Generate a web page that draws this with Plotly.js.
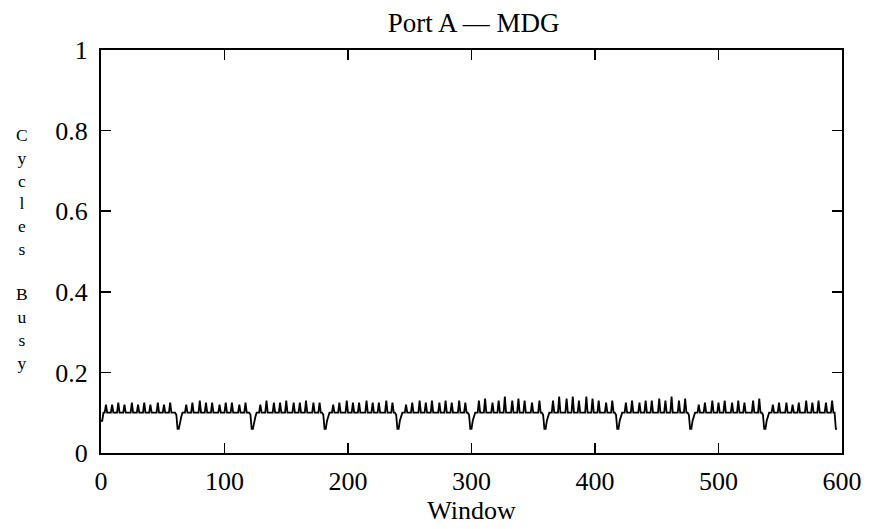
<!DOCTYPE html>
<html>
<head>
<meta charset="utf-8">
<script src="https://cdn.plot.ly/plotly-3.0.1.min.js"></script>
<style>html,body{margin:0;padding:0;background:#fff;}#chart{width:877px;height:529px;}</style>
</head>
<body>
<div id="chart"></div>
<script>
// Fraction of cycles busy, one value per window (window index = position in array)
const cyclesBusy = [
0.08,0.08,0.1,0.1,0.12,0.1,0.1,0.1,0.1,0.12,
0.1,0.1,0.1,0.1,0.125,0.1,0.1,0.1,0.1,0.12,
0.1,0.1,0.1,0.1,0.1,0.125,0.1,0.1,0.1,0.1,
0.12,0.1,0.1,0.1,0.1,0.125,0.1,0.1,0.1,0.1,
0.12,0.1,0.1,0.1,0.1,0.1,0.125,0.1,0.1,0.1,
0.1,0.12,0.1,0.1,0.1,0.1,0.125,0.1,0.1,0.1,
0.1,0.095,0.06,0.06,0.08,0.09,0.1,0.1,0.1,0.12,
0.1,0.1,0.1,0.1,0.125,0.1,0.1,0.1,0.1,0.1,
0.13,0.1,0.1,0.1,0.1,0.125,0.1,0.1,0.1,0.1,
0.125,0.1,0.1,0.1,0.1,0.1,0.12,0.1,0.1,0.1,
0.1,0.125,0.1,0.1,0.1,0.1,0.125,0.1,0.1,0.1,
0.1,0.1,0.12,0.1,0.1,0.1,0.1,0.125,0.1,0.1,0.1,
0.095,0.06,0.06,0.08,0.09,0.1,0.1,0.1,0.12,0.1,
0.1,0.1,0.1,0.13,0.1,0.1,0.1,0.1,0.1,0.125,
0.1,0.1,0.1,0.1,0.125,0.1,0.1,0.1,0.1,0.13,
0.1,0.1,0.1,0.1,0.1,0.125,0.1,0.1,0.1,0.1,
0.125,0.1,0.1,0.1,0.1,0.13,0.1,0.1,0.1,0.1,
0.1,0.125,0.1,0.1,0.1,0.1,0.125,0.1,0.1,0.095,
0.06,0.06,0.08,0.09,0.1,0.1,0.1,0.12,0.1,0.1,
0.1,0.1,0.125,0.1,0.1,0.1,0.1,0.1,0.13,0.1,
0.1,0.1,0.1,0.125,0.1,0.1,0.1,0.1,0.125,0.1,
0.1,0.1,0.1,0.1,0.13,0.1,0.1,0.1,0.1,0.125,
0.1,0.1,0.1,0.1,0.125,0.1,0.1,0.1,0.1,0.1,
0.13,0.1,0.1,0.1,0.1,0.125,0.1,0.1,0.095,0.06,
0.06,0.08,0.09,0.1,0.1,0.1,0.12,0.1,0.1,0.1,
0.1,0.125,0.1,0.1,0.1,0.1,0.1,0.13,0.1,0.1,
0.1,0.1,0.125,0.1,0.1,0.1,0.1,0.13,0.1,0.1,
0.1,0.1,0.1,0.125,0.1,0.1,0.1,0.1,0.13,0.1,
0.1,0.1,0.1,0.125,0.1,0.1,0.1,0.1,0.1,0.13,
0.1,0.1,0.1,0.1,0.125,0.1,0.1,0.095,0.06,0.06,
0.08,0.09,0.1,0.1,0.1,0.13,0.1,0.1,0.1,0.1,
0.135,0.1,0.1,0.1,0.1,0.1,0.125,0.1,0.1,0.1,
0.1,0.13,0.1,0.1,0.1,0.1,0.14,0.1,0.1,0.1,
0.1,0.1,0.13,0.1,0.1,0.1,0.1,0.135,0.1,0.1,
0.1,0.1,0.13,0.1,0.1,0.1,0.1,0.1,0.125,0.1,0.1,
0.1,0.1,0.1,0.13,0.1,0.1,0.095,0.06,0.06,0.08,
0.09,0.1,0.1,0.1,0.13,0.1,0.1,0.1,0.1,0.14,
0.1,0.1,0.1,0.1,0.1,0.135,0.1,0.1,0.1,0.1,
0.14,0.1,0.1,0.1,0.1,0.13,0.1,0.1,0.1,0.1,
0.1,0.14,0.1,0.1,0.1,0.1,0.135,0.1,0.1,0.1,
0.1,0.13,0.1,0.1,0.1,0.1,0.1,0.125,0.1,0.1,
0.1,0.1,0.13,0.1,0.1,0.095,0.06,0.06,0.08,0.09,
0.1,0.1,0.1,0.125,0.1,0.1,0.1,0.1,0.13,0.1,
0.1,0.1,0.1,0.1,0.125,0.1,0.1,0.1,0.1,0.13,
0.1,0.1,0.1,0.1,0.13,0.1,0.1,0.1,0.1,0.1,
0.135,0.1,0.1,0.1,0.1,0.13,0.1,0.1,0.1,0.1,
0.14,0.1,0.1,0.1,0.1,0.1,0.13,0.1,0.1,0.1,
0.1,0.135,0.1,0.1,0.095,0.06,0.06,0.08,0.09,0.1,
0.1,0.1,0.12,0.1,0.1,0.1,0.1,0.125,0.1,0.1,
0.1,0.1,0.1,0.13,0.1,0.1,0.1,0.1,0.125,0.1,
0.1,0.1,0.1,0.13,0.1,0.1,0.1,0.1,0.1,0.125,
0.1,0.1,0.1,0.1,0.13,0.1,0.1,0.1,0.1,0.125,0.1,
0.1,0.1,0.1,0.1,0.1,0.13,0.1,0.1,0.1,0.1,
0.135,0.1,0.1,0.095,0.06,0.06,0.08,0.09,0.1,0.1,
0.1,0.12,0.1,0.1,0.1,0.1,0.125,0.1,0.1,0.1,
0.1,0.1,0.125,0.1,0.1,0.1,0.1,0.12,0.1,0.1,
0.1,0.1,0.125,0.1,0.1,0.1,0.1,0.1,0.13,0.1,
0.1,0.1,0.1,0.125,0.1,0.1,0.1,0.1,0.13,0.1,
0.1,0.1,0.1,0.1,0.125,0.1,0.1,0.1,0.1,0.13,
0.1,0.1,0.06,0.06
];
const xTicks = [0, 100, 200, 300, 400, 500, 600];
const yTicks = [0, 0.2, 0.4, 0.6, 0.8, 1];
const titleText = "Port A \u2014 MDG";
const xTitle = "Window";
const yTitleLetters = ["C","y","c","l","e","s"," ","B","u","s","y"];

const fam = "Liberation Serif, Times New Roman, serif";
const tickFont = {family: fam, size: 26, color: "#000"};
const labelFont = {family: fam, size: 26, color: "#000"};

const trace = {
  y: cyclesBusy,
  type: "scatter",
  mode: "lines",
  line: {color: "#000", width: 1.8},
  hoverinfo: "skip"
};

const axisCommon = {
  showgrid: false,
  zeroline: false,
  showline: true,
  linecolor: "#000",
  linewidth: 2,
  mirror: "allticks",
  ticks: "inside",
  ticklen: 10,
  tickwidth: 1.5,
  tickcolor: "#000",
  tickfont: tickFont
};

const layout = {
  width: 877,
  height: 529,
  margin: {l: 101, r: 35, t: 50, b: 76},
  paper_bgcolor: "#fff",
  plot_bgcolor: "#fff",
  showlegend: false,
  font: labelFont,
  title: {text: titleText, font: {family: fam, size: 27, color: "#000"}, x: 0.54, xanchor: "center", y: 0.958, yanchor: "middle"},
  xaxis: Object.assign({}, axisCommon, {
    range: [0, 600],
    tickvals: xTicks,
    ticktext: xTicks.map(String),
    ticklabelstandoff: 4,
    title: {text: xTitle, font: labelFont, standoff: 2}
  }),
  yaxis: Object.assign({}, axisCommon, {
    range: [0, 1],
    tickvals: yTicks,
    ticktext: yTicks.map(String),
    ticklabelstandoff: 6
  }),
  annotations: [{
    text: yTitleLetters.join("<br>"),
    xref: "paper", yref: "paper",
    x: -0.106, y: 0.505,
    xanchor: "center", yanchor: "middle",
    showarrow: false,
    font: {family: fam, size: 17.5, color: "#000"}
  }]
};

Plotly.newPlot("chart", [trace], layout, {staticPlot: true, displayModeBar: false});
</script>
</body>
</html>
